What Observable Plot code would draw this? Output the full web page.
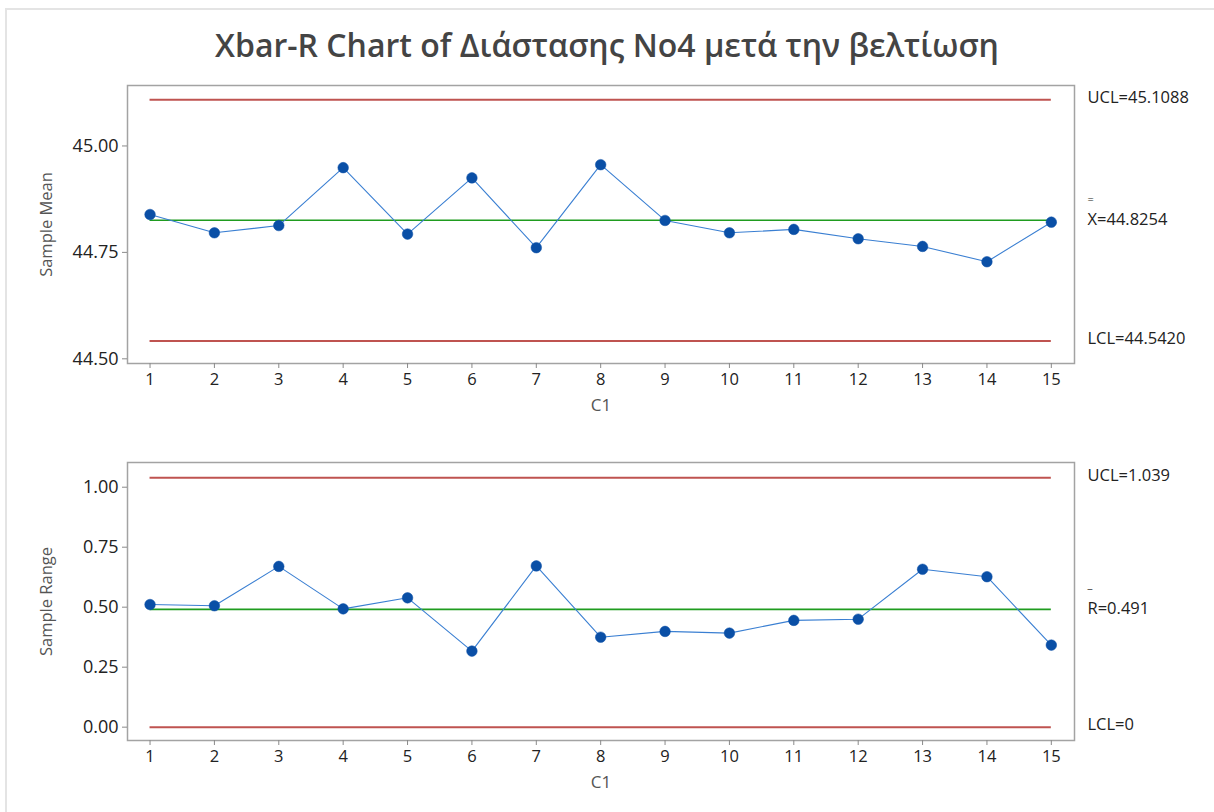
<!DOCTYPE html>
<html>
<head>
<meta charset="utf-8">
<script src="https://cdn.jsdelivr.net/npm/d3@7"></script>
<script src="https://cdn.jsdelivr.net/npm/@observablehq/plot@0.6"></script>
<style>
  html, body { margin: 0; padding: 0; background: #fff; }
  #page { position: relative; width: 1214px; height: 812px; overflow: hidden; background: #fff; font-family: "Open Sans", sans-serif; }
  #edge { position: absolute; left: 5px; top: 8px; right: 0; bottom: 0; border-left: 2px solid #e4e4e4; border-top: 2px solid #e4e4e4; }
  #title { position: absolute; left: 0; width: 1214px; top: 25px; line-height: 40px; text-align: center; font-size: 32px; font-weight: 600; color: #444; }
  .chart { position: absolute; left: 0; }
  .chart svg { overflow: visible; }
  g[aria-label="y-axis label"] text { font-size: 16.5px; fill: #555555; }
  g[aria-label="x-axis label"] text { font-size: 17px; fill: #555555; }
</style>
</head>
<body>
<div id="page">
  <div id="edge"></div>
  <div id="title">Xbar-R Chart of Διάστασης No4 μετά την βελτίωση</div>
  <div id="top" class="chart" style="top:70px"></div>
  <div id="bottom" class="chart" style="top:450px"></div>
</div>
<script>
// ---- data ----
const samples = [1, 2, 3, 4, 5, 6, 7, 8, 9, 10, 11, 12, 13, 14, 15];
const sampleMeans = [44.839, 44.796, 44.813, 44.949, 44.793, 44.925, 44.761, 44.956, 44.825, 44.796, 44.804, 44.782, 44.764, 44.728, 44.821];
const sampleRanges = [0.511, 0.506, 0.670, 0.493, 0.539, 0.317, 0.672, 0.375, 0.399, 0.392, 0.445, 0.450, 0.658, 0.627, 0.342];
const xbarLimits = [45.1088, 44.5420];   // UCL, LCL
const xbarCenter = [44.8254];
const rangeLimits = [1.039, 0];          // UCL, LCL
const rangeCenter = [0.491];
const meanTicks = [44.50, 44.75, 45.00];
const rangeTicks = [0, 0.25, 0.5, 0.75, 1.0];
const xLabel = "C1";
const meanLabel = "Sample Mean";
const rangeLabel = "Sample Range";

const meanData = samples.map((s, i) => ({sample: s, value: sampleMeans[i]}));
const rangeData = samples.map((s, i) => ({sample: s, value: sampleRanges[i]}));
const xFirst = samples[0], xLast = samples[samples.length - 1];

const RED = "#bf5350", GREEN = "#1f9c1f", LINE = "#3a7fd2", DOT = "#0a4fa6";
const fmt2 = d3.format(".2f");

function controlChart({data, yLabel, domain, ticks, limits, center, limitFmt, centerText, barText, barDy, barSize, height, marginTop, marginBottom}) {
  const limitRows = limits.map(v => ({y: v, x1: xFirst, x2: xLast}));
  const centerRows = center.map(v => ({y: v, x1: xFirst, x2: xLast}));
  return Plot.plot({
    width: 1214,
    height,
    marginLeft: 127,
    marginRight: 140,
    marginTop,
    marginBottom,
    style: {fontFamily: "Open Sans, sans-serif", fontSize: "16px", color: "#222", background: "transparent"},
    x: {domain: [0.65, 15.36]},
    y: {domain},
    marks: [
      Plot.frame({stroke: "#a3a3a3", strokeWidth: 1.5}),
      Plot.axisX({ticks: samples, tickFormat: d => String(d), tickSize: 5, tickPadding: 5, stroke: "#8a8a8a", fontSize: 16.5,
        label: xLabel, labelAnchor: "center", labelOffset: 47, labelArrow: false}),
      Plot.axisY({ticks, tickFormat: fmt2, tickSize: 5, tickPadding: 4, stroke: "#8a8a8a", fontSize: 18,
        label: yLabel, labelAnchor: "center", labelOffset: 87, labelArrow: false}),
      Plot.ruleY(limitRows, {y: "y", x1: "x1", x2: "x2", stroke: RED, strokeWidth: 2}),
      Plot.ruleY(centerRows, {y: "y", x1: "x1", x2: "x2", stroke: GREEN, strokeWidth: 1.6}),
      Plot.line(data, {x: "sample", y: "value", stroke: LINE, strokeWidth: 1.1}),
      Plot.dot(data, {x: "sample", y: "value", r: 5.3, fill: DOT, stroke: DOT, strokeWidth: 0.5}),
      Plot.text(limits, {y: d => d, text: (d, i) => (i === 0 ? "UCL=" : "LCL=") + limitFmt(d), frameAnchor: "right", dx: 13, dy: -2,
        textAnchor: "start", fontSize: 16.5, fill: "#222"}),
      Plot.text(center, {y: d => d, text: d => centerText + limitFmt(d), frameAnchor: "right", dx: 13, dy: -1,
        textAnchor: "start", fontSize: 16.5, fill: "#222"}),
      Plot.text(center, {y: d => d, text: () => barText, frameAnchor: "right", dx: 13, dy: barDy,
        textAnchor: "start", fontSize: barSize, fill: "#222"})
    ]
  });
}

const topChart = controlChart({
  data: meanData, yLabel: meanLabel, domain: [44.489, 45.142], ticks: meanTicks,
  limits: xbarLimits, center: xbarCenter, limitFmt: d3.format(".4f"),
  centerText: "X=", barText: "=", barDy: -21, barSize: 11,
  height: 370, marginTop: 15, marginBottom: 77
});
document.getElementById("top").appendChild(topChart);

const bottomChart = controlChart({
  data: rangeData, yLabel: rangeLabel, domain: [-0.0556, 1.103], ticks: rangeTicks,
  limits: rangeLimits, center: rangeCenter, limitFmt: d => (d === 0 ? "0" : d3.format(".3f")(d)),
  centerText: "R=", barText: "_", barDy: -25, barSize: 11,
  height: 362, marginTop: 12, marginBottom: 72
});
document.getElementById("bottom").appendChild(bottomChart);
</script>
</body>
</html>
